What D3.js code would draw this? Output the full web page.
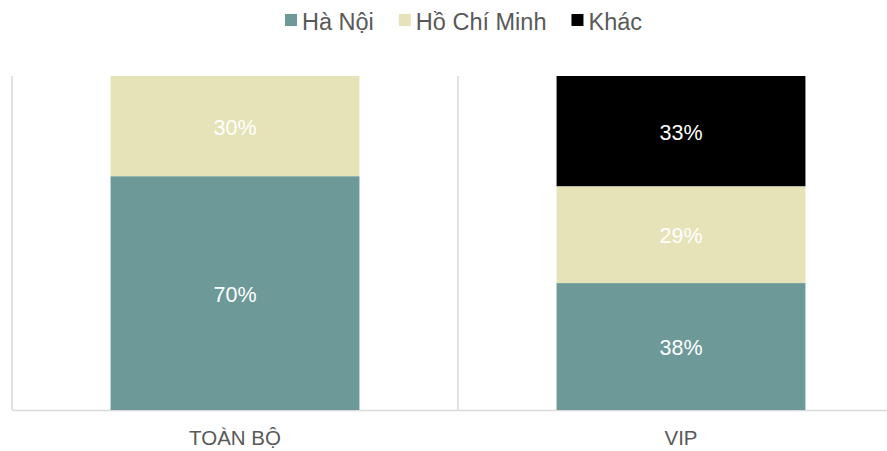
<!DOCTYPE html>
<html>
<head>
<meta charset="utf-8">
<script src="https://cdn.jsdelivr.net/npm/d3@7"></script>
<style>
  body { margin: 0; background: #fff; }
  svg text { font-family: "Liberation Sans", Arial, sans-serif; }
</style>
</head>
<body>
<svg id="chart" width="887" height="451"></svg>
<script>
var categories = ['TOÀN BỘ', 'VIP'],
    seriesNames = ['Hà Nội', 'Hồ Chí Minh', 'Khác'],
    haNoi = [70, 38],
    hoChiMinh = [30, 29],
    khac = [0, 33];

var colors = ['#6d9a99', '#e6e3b8', '#000000'],
    labelColors = ['#ffffff', '#ffffff', '#ffffff'];

var width = 887,
    height = 451,
    plotLeft = 12,
    plotRight = 904,
    plotTop = 76,
    plotBottom = 410,
    barRatio = 0.558;

var svg = d3.select('#chart');

var x = d3.scaleBand()
    .domain(categories)
    .range([plotLeft, plotRight])
    .padding(0);

var y = d3.scaleLinear()
    .domain([0, 100])
    .range([plotBottom, plotTop]);

var rows = categories.map(function(c, i) {
    return {cat: c, 'Hà Nội': haNoi[i], 'Hồ Chí Minh': hoChiMinh[i], 'Khác': khac[i]};
});

var stacked = d3.stack().keys(seriesNames)(rows);

// grid / axis lines
svg.append('g')
    .selectAll('line')
    .data(categories)
    .enter()
    .append('line')
        .attr('x1', function(d) { return x(d); })
        .attr('x2', function(d) { return x(d); })
        .attr('y1', plotTop)
        .attr('y2', plotBottom)
        .attr('stroke', '#d9d9d9')
        .attr('stroke-width', 1.5);

svg.append('line')
    .attr('x1', plotLeft)
    .attr('x2', plotRight)
    .attr('y1', plotBottom + 0.5)
    .attr('y2', plotBottom + 0.5)
    .attr('stroke', '#d9d9d9')
    .attr('stroke-width', 1.5);

var barW = x.bandwidth() * barRatio;
var barX = function(d) {
    return x(d.data.cat) + (x.bandwidth() - barW) / 2;
};

var layers = svg.append('g')
    .selectAll('g')
    .data(stacked)
    .enter()
    .append('g')
        .attr('fill', function(d, i) { return colors[i]; });

layers.selectAll('rect')
    .data(function(d) { return d; })
    .enter()
    .append('rect')
        .attr('x', barX)
        .attr('width', barW)
        .attr('y', function(d) { return y(d[1]); })
        .attr('height', function(d) { return y(d[0]) - y(d[1]); });

// data labels
stacked.forEach(function(layer, li) {
    svg.append('g')
        .selectAll('text')
        .data(layer.filter(function(d) { return d[1] - d[0] > 0; }))
        .enter()
        .append('text')
            .attr('x', function(d) { return barX(d) + barW / 2; })
            .attr('y', function(d) { return (y(d[0]) + y(d[1])) / 2; })
            .attr('dy', '0.4em')
            .attr('text-anchor', 'middle')
            .attr('font-size', 21.5)
            .attr('fill', labelColors[li])
            .text(function(d) { return (d[1] - d[0]) + '%'; });
});

// category labels
svg.append('g')
    .selectAll('text')
    .data(categories)
    .enter()
    .append('text')
        .attr('x', function(d) { return x(d) + x.bandwidth() / 2; })
        .attr('y', 445)
        .attr('text-anchor', 'middle')
        .attr('font-size', 20.5)
        .attr('fill', '#595959')
        .text(function(d) { return d; });

// legend
var legend = svg.append('g');
var items = legend.selectAll('g')
    .data(seriesNames)
    .enter()
    .append('g');

items.append('rect')
    .attr('width', 12)
    .attr('height', 12)
    .attr('y', 14)
    .attr('fill', function(d, i) { return colors[i]; });

items.append('text')
    .attr('x', 17)
    .attr('y', 30)
    .attr('font-size', 23.5)
    .attr('fill', '#595959')
    .text(function(d) { return d; });

var gap = 25, pos = 0;
items.each(function() {
    var w = 17 + d3.select(this).select('text').node().getComputedTextLength();
    d3.select(this).attr('transform', 'translate(' + pos + ',0)');
    pos += w + gap;
});
var totalW = pos - gap;
legend.attr('transform', 'translate(' + Math.round(width / 2 + 20 - totalW / 2) + ',0)');
</script>
</body>
</html>
